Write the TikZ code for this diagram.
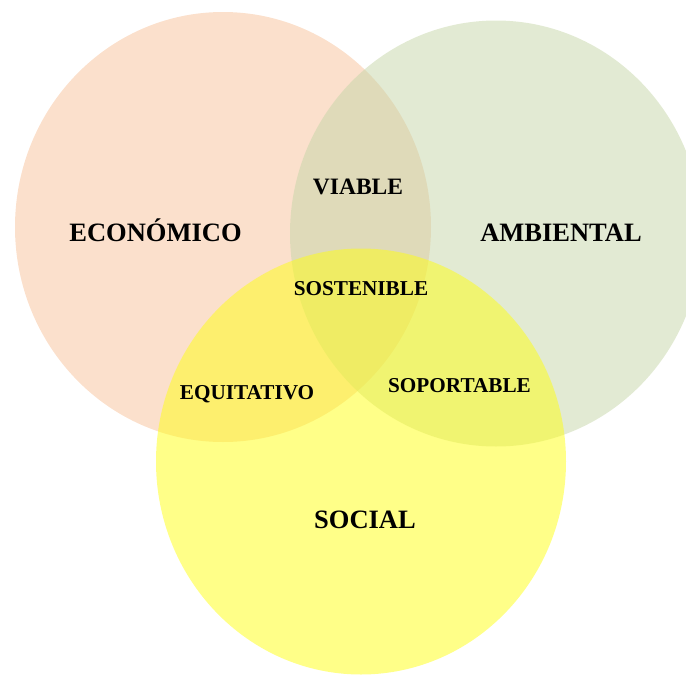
\documentclass[tikz,border=0pt]{standalone}
\usepackage{fontspec}
\setmainfont{Liberation Serif}
\definecolor{econ}{RGB}{251,224,204}
\definecolor{amb}{RGB}{197,213,167}
\definecolor{soc}{RGB}{255,255,17}
\begin{document}
\begin{tikzpicture}[x=1pt,y=-1pt,
  big/.style={anchor=base,inner sep=0pt,font=\fontsize{26.5}{30}\selectfont\bfseries},
  mid/.style={anchor=base,inner sep=0pt,font=\fontsize{23.5}{27}\selectfont\bfseries},
  small/.style={anchor=base,inner sep=0pt,font=\fontsize{21.2}{25}\selectfont\bfseries}]
\useasboundingbox (0,0) rectangle (686,675);
\clip (0,0) rectangle (686,675);
\fill[econ] (223,227) ellipse [x radius=208pt, y radius=215pt];
\fill[amb,fill opacity=0.5] (496,233.5) ellipse [x radius=206pt, y radius=213pt];
\fill[soc,fill opacity=0.5] (361,461.5) ellipse [x radius=205pt, y radius=213pt];
\node[big] (econ) at (155.5,241) {ECONÓMICO};
\node[big] (amb) at (561,241) {AMBIENTAL};
\node[big] (soc) at (365,528) {SOCIAL};
\node[mid] (viable) at (358,194.5) {VIABLE};
\node[small] (sost) at (361,295.7) {SOSTENIBLE};
\node[small] (equi) at (247,399) {EQUITATIVO};
\node[small] (sopo) at (459.5,392.6) {SOPORTABLE};
\end{tikzpicture}
\end{document}
